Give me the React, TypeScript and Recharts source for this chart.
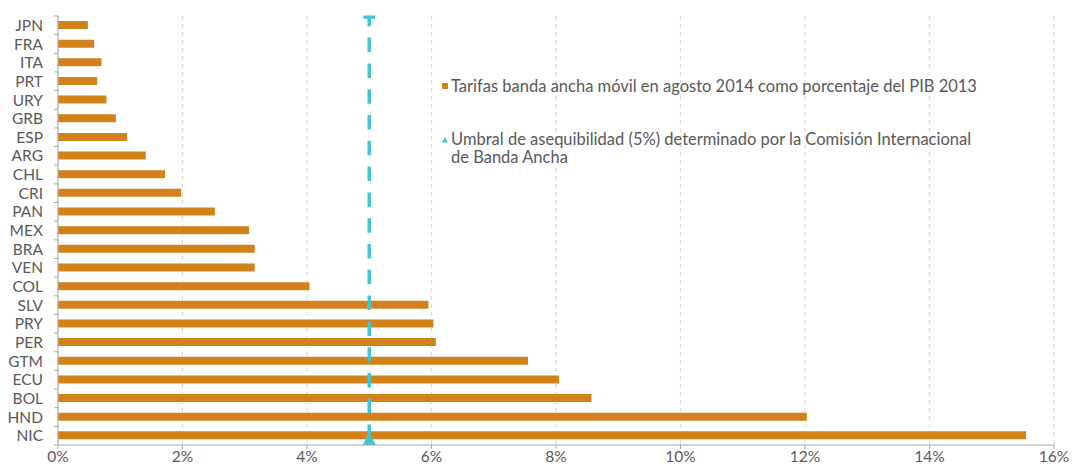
import React from "react";
import {
  BarChart,
  Bar,
  XAxis,
  YAxis,
  CartesianGrid,
  ReferenceLine,
  Legend,
} from "recharts";

const countries = [
  "JPN", "FRA", "ITA", "PRT", "URY", "GRB", "ESP", "ARG", "CHL", "CRI", "PAN", "MEX",
  "BRA", "VEN", "COL", "SLV", "PRY", "PER", "GTM", "ECU", "BOL", "HND", "NIC",
];
const tarifas = [
  0.48, 0.58, 0.7, 0.63, 0.78, 0.93, 1.11, 1.41, 1.72, 1.98, 2.52, 3.07,
  3.16, 3.16, 4.04, 5.95, 6.03, 6.07, 7.55, 8.05, 8.57, 12.03, 15.55,
];
const umbral = 5;
const xTicks = [0, 2, 4, 6, 8, 10, 12, 14, 16];

const ORANGE = "#D2821A";
const CYAN = "#40C5D5";
const TEXT = "#595959";
const AXIS = "#A6A6A6";
const FONT = "Lato, 'Noto Sans', sans-serif";

const data = countries.map((c, i) => ({ country: c, tarifa: tarifas[i] }));

// category labels, with small ticks on the band boundaries
const YTick = (props: any) => {
  const { x, y, payload, index } = props;
  const ax = x + 15;
  const half = 9.33;
  return (
    <g>
      <text x={x} y={y} dy="0.36em" textAnchor="end" fill={TEXT} fontSize={15.5} fontFamily={FONT}>
        {payload.value}
      </text>
      <line x1={ax - 4} x2={ax} y1={y - half} y2={y - half} stroke={AXIS} />
      {index === countries.length - 1 && (
        <line x1={ax - 4} x2={ax} y1={y + half} y2={y + half} stroke={AXIS} />
      )}
    </g>
  );
};

// dashed threshold with a cap on top and a triangle at the bottom
const UmbralShape = (props: any) => {
  const { x1, y1, y2 } = props;
  const top = Math.min(y1, y2);
  const bot = Math.max(y1, y2);
  return (
    <g>
      <line
        x1={x1}
        x2={x1}
        y1={top}
        y2={bot - 6}
        stroke={CYAN}
        strokeWidth={3.5}
        strokeDasharray="14.5 11.3"
        strokeDashoffset={4.2}
      />
      <rect x={x1 - 6} y={top - 0.5} width={12} height={3.3} fill={CYAN} />
      <polygon points={`${x1},${bot - 13} ${x1 - 6.5},${bot} ${x1 + 6.5},${bot}`} fill={CYAN} />
    </g>
  );
};

const LegendBox = () => (
  <div style={{ fontFamily: FONT, fontSize: 16.5, color: TEXT, lineHeight: "18.5px" }}>
    <div style={{ display: "flex", alignItems: "center" }}>
      <span style={{ width: 6, height: 6, background: ORANGE, marginRight: 3, marginLeft: 2 }} />
      <span>Tarifas banda ancha móvil en agosto 2014 como porcentaje del PIB 2013</span>
    </div>
    <div style={{ display: "flex", marginTop: 34.5 }}>
      <svg width={8} height={18} style={{ marginLeft: 1, marginRight: 2 }}>
        <polygon points="4,7 1,12.5 7,12.5" fill={CYAN} />
      </svg>
      <span>
        Umbral de asequibilidad (5%) determinado por la Comisión Internacional
        <br />
        de Banda Ancha
      </span>
    </div>
  </div>
);

export default function App() {
  return (
    <div style={{ position: "absolute", left: 0, top: 0, width: 1079, height: 465, background: "#fff" }}>
      <BarChart
        width={1079}
        height={465}
        data={data}
        layout="vertical"
        margin={{ top: 16, right: 25, left: 0, bottom: 0 }}
        barSize={8}
      >
        <CartesianGrid horizontal={false} stroke="#DADADA" strokeDasharray="4 4" strokeWidth={1.2} />
        <XAxis
          type="number"
          domain={[0, 16]}
          ticks={xTicks}
          tickFormatter={(v) => `${v}%`}
          height={20}
          tickSize={4}
          tickMargin={2}
          axisLine={{ stroke: AXIS }}
          tickLine={{ stroke: AXIS }}
          tick={{ fill: TEXT, fontSize: 15.5, fontFamily: FONT }}
        />
        <YAxis
          type="category"
          dataKey="country"
          width={58}
          interval={0}
          tickSize={0}
          tickMargin={15}
          tickLine={false}
          axisLine={{ stroke: AXIS }}
          tick={<YTick />}
        />
        <Bar dataKey="tarifa" fill={ORANGE} isAnimationActive={false} />
        <ReferenceLine x={umbral} shape={<UmbralShape />} />
        <Legend
          layout="horizontal"
          verticalAlign="middle"
          align="center"
          wrapperStyle={{ left: 440, top: 76.75, width: 600 }}
          content={<LegendBox />}
        />
      </BarChart>
    </div>
  );
}
